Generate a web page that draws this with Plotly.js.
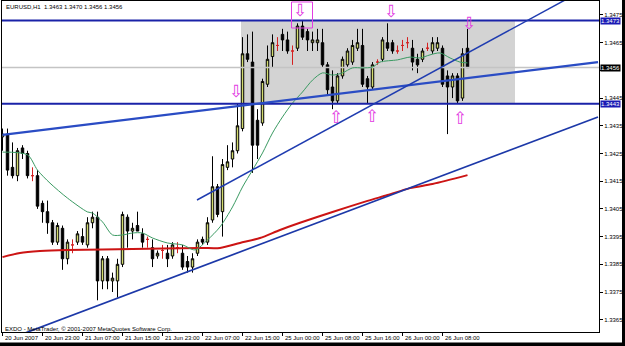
<!DOCTYPE html>
<html><head><meta charset="utf-8">
<script src="https://cdn.plot.ly/plotly-3.0.1.min.js"></script>
<style>html,body{margin:0;padding:0;background:#fff;}#chart{width:625px;height:346px;}</style>
</head><body><div id="chart"></div>
<script>
// ---- data ----
const tickIdx = [0, 8, 16, 24, 32, 40, 48, 56, 64, 72, 80, 88];
const tickLabels = ["20 Jun 2007", "20 Jun 23:00", "21 Jun 07:00", "21 Jun 15:00", "21 Jun 23:00", "22 Jun 07:00",
  "22 Jun 15:00", "25 Jun 00:00", "25 Jun 08:00", "25 Jun 16:00", "26 Jun 00:00", "26 Jun 08:00"];
const priceTicks = [1.3365, 1.3375, 1.3385, 1.3395, 1.3405, 1.3415, 1.3425, 1.3435, 1.3445, 1.3455, 1.3465, 1.3475];

const openP = [1.3431,1.3432,1.3420,1.3417,1.3427,1.3425,1.3417,1.3417,1.3407,1.3404,
 1.3400,1.3393,1.3398,1.3387,1.3392,1.3393,1.3395,1.3392,1.3400,1.3402,
 1.3379,1.3387,1.3379,1.3379,1.3385,1.3402,1.3397,1.3399,1.3396,1.3394,
 1.3391,1.3388,1.3390,1.3389,1.3388,1.3391,1.3389,1.3386,1.3384,1.3389,
 1.3394,1.3393,1.3401,1.3413,1.3404,1.3420,1.3423,1.3426,1.3434,1.3461,
 1.3458,1.3437,1.3436,1.3450,1.3460,1.3464,1.3468,1.3466,1.3462,1.3463,
 1.3471,1.3469,1.3465,1.3465,1.3465,1.3457,1.3449,1.3444,1.3453,1.3457,
 1.3458,1.3463,1.3464,1.3452,1.3449,1.3458,1.3459,1.3465,1.3465,1.3462,
 1.3464,1.3465,1.3463,1.3459,1.3459,1.3463,1.3462,1.3463,1.3463,1.3453,
 1.3449,1.3453,1.3445,1.3463];
const highP = [1.3434,1.3434,1.3429,1.3427,1.3428,1.3426,1.3420,1.3419,1.3408,1.3408,
 1.3401,1.3400,1.3399,1.3394,1.3394,1.3397,1.3398,1.3402,1.3404,1.3404,
 1.3388,1.3388,1.3382,1.3387,1.3404,1.3403,1.3400,1.3404,1.3398,1.3395,
 1.3394,1.3390,1.3392,1.3392,1.3393,1.3393,1.3392,1.3388,1.3389,1.3394,
 1.3395,1.3402,1.3424,1.3414,1.3423,1.3428,1.3429,1.3443,1.3467,1.3468,
 1.3469,1.3441,1.3452,1.3464,1.3468,1.3467,1.3470,1.3469,1.3464,1.3472,
 1.3473,1.3470,1.3469,1.3470,1.3470,1.3458,1.3455,1.3454,1.3460,1.3463,
 1.3466,1.3470,1.3470,1.3453,1.3458,1.3459,1.3467,1.3472,1.3466,1.3464,
 1.3466,1.3467,1.3466,1.3461,1.3463,1.3465,1.3467,1.3467,1.3464,1.3455,
 1.3454,1.3454,1.3463,1.3470];
const lowP = [1.3426,1.3417,1.3416,1.3415,1.3423,1.3416,1.3415,1.3405,1.3400,1.3396,
 1.3392,1.3392,1.3383,1.3385,1.3389,1.3392,1.3392,1.3391,1.3398,1.3372,
 1.3376,1.3376,1.3375,1.3373,1.3384,1.3391,1.3394,1.3397,1.3391,1.3391,
 1.3384,1.3387,1.3387,1.3384,1.3387,1.3389,1.3383,1.3382,1.3382,1.3388,
 1.3392,1.3392,1.3400,1.3402,1.3395,1.3419,1.3420,1.3425,1.3433,1.3458,
 1.3418,1.3423,1.3435,1.3449,1.3456,1.3462,1.3462,1.3461,1.3457,1.3462,
 1.3466,1.3462,1.3462,1.3462,1.3456,1.3446,1.3441,1.3443,1.3452,1.3456,
 1.3457,1.3462,1.3449,1.3443,1.3448,1.3457,1.3458,1.3462,1.3461,1.3461,
 1.3462,1.3463,1.3455,1.3454,1.3458,1.3462,1.3461,1.3462,1.3449,1.3432,
 1.3445,1.3443,1.3444,1.3456];
const closeP = [1.3432,1.3419,1.3417,1.3426,1.3425,1.3417,1.3417,1.3406,1.3404,1.3400,
 1.3393,1.3399,1.3387,1.3393,1.3392,1.3396,1.3393,1.3400,1.3402,1.3379,
 1.3387,1.3379,1.3380,1.3385,1.3403,1.3397,1.3398,1.3397,1.3393,1.3394,
 1.3387,1.3389,1.3390,1.3387,1.3392,1.3391,1.3384,1.3384,1.3387,1.3393,
 1.3393,1.3400,1.3413,1.3403,1.3421,1.3422,1.3426,1.3435,1.3461,1.3459,
 1.3428,1.3428,1.3451,1.3459,1.3465,1.3464,1.3466,1.3462,1.3462,1.3471,
 1.3467,1.3466,1.3466,1.3466,1.3457,1.3448,1.3444,1.3453,1.3459,1.3462,
 1.3464,1.3465,1.3450,1.3449,1.3457,1.3458,1.3466,1.3463,1.3462,1.3462,
 1.3464,1.3465,1.3458,1.3457,1.3462,1.3463,1.3465,1.3465,1.3450,1.3449,
 1.3453,1.3444,1.3461,1.3456];

const maGreenIdx = [0,5,7,9.5,13,17,18,20,22,24,26,28,30,33,36,38.5,41,43.5,46,48,50,52,54,56,58,60,62,64,66,68,70,72,74,75.5,79,81.5,83.5,85.5,87.5,89.5,91.5,93];
const maGreenVal = [1.34255,1.34245,1.34190,1.34143,1.34089,1.34039,1.34035,1.34003,1.33956,1.33956,1.33963,1.33963,1.33945,1.33927,1.33920,1.33902,1.33938,1.33985,1.34057,1.34129,1.34190,1.34252,1.34324,1.34382,1.34432,1.34472,1.34515,1.34541,1.34533,1.34541,1.34559,1.34559,1.34562,1.34580,1.34588,1.34598,1.34595,1.34606,1.34613,1.34595,1.34580,1.34577];
const maRedIdx = [0,3.5,7.5,13,26,39.5,43.5,47.5,51.5,55.5,59.5,66,73,77,81.5,86,93];
const maRedVal = [1.33876,1.33891,1.33898,1.33902,1.33905,1.33909,1.33909,1.33927,1.33945,1.33974,1.34000,1.34039,1.34079,1.34100,1.34125,1.34140,1.34172];

const levelUpper = 1.3473, levelLower = 1.3443, bidLevel = 1.3456;
const trendAIdx = [0, 119.1], trendAVal = [1.34317, 1.34580];
const trendBIdx = [38.9, 112.5], trendBVal = [1.34082, 1.34804];
const trendCIdx = [3.5, 119.1], trendCVal = [1.33595, 1.34382];
const boxIdx = [47.7, 102.5];
const downArrowIdx = [46.7, 59.5, 77.7, 93.3], downArrowVal = [1.34468, 1.34762, 1.34758, 1.34714];
const upArrowIdx = [66.7, 73.9, 91.5], upArrowVal = [1.34375, 1.34378, 1.34371];
const markBoxIdx = [57.8, 62.0], markBoxVal = [1.34703, 1.34797];
const headerText = "EURUSD,H1  1.3463 1.3470 1.3456 1.3456";
const footerText = "EXDO - MetaTrader, © 2001-2007 MetaQuotes Software Corp.";

// ---- build ----
const idx = openP.map((_, i) => i);
const nd = idx.filter(i => openP[i] !== closeP[i]);
const dj = idx.filter(i => openP[i] === closeP[i]);
const pick = (arr, ids) => ids.map(i => arr[i]);
const X0 = -0.1, X1 = 119.3;

const traces = [
  {type:'scatter', mode:'lines', x:[X0-2, X1+2], y:[bidLevel, bidLevel], line:{color:'#c4c4c4', width:1.5}, hoverinfo:'skip'},
  {type:'candlestick', x:pick(idx,nd), open:pick(openP,nd), high:pick(highP,nd), low:pick(lowP,nd), close:pick(closeP,nd),
   increasing:{line:{color:'#000', width:1}, fillcolor:'#d2db6e'},
   decreasing:{line:{color:'#000', width:1}, fillcolor:'#000'}, whiskerwidth:0, hoverinfo:'skip'},
  {type:'candlestick', x:pick(idx,dj), open:pick(openP,dj), high:pick(highP,dj), low:pick(lowP,dj), close:pick(closeP,dj),
   increasing:{line:{color:'#d42020', width:1}, fillcolor:'#d42020'},
   decreasing:{line:{color:'#d42020', width:1}, fillcolor:'#d42020'}, whiskerwidth:0, hoverinfo:'skip'},
  {type:'scatter', mode:'lines', x:maRedIdx, y:maRedVal, line:{color:'#cc1414', width:2, shape:'spline', smoothing:0.8}, hoverinfo:'skip'},
  {type:'scatter', mode:'lines', x:maGreenIdx, y:maGreenVal, line:{color:'#3a9a62', width:1, shape:'spline', smoothing:0.8}, hoverinfo:'skip'},
  {type:'scatter', mode:'lines', x:[X0-2, X1+2], y:[levelUpper, levelUpper], line:{color:'#1a22a8', width:2}, hoverinfo:'skip'},
  {type:'scatter', mode:'lines', x:[X0-2, X1+2], y:[levelLower, levelLower], line:{color:'#1a22a8', width:2}, hoverinfo:'skip'},
  {type:'scatter', mode:'lines', x:trendAIdx, y:trendAVal, line:{color:'#2a4cc4', width:2.2}, hoverinfo:'skip'},
  {type:'scatter', mode:'lines', x:trendBIdx, y:trendBVal, line:{color:'#1f3cb0', width:1.5}, hoverinfo:'skip'},
  {type:'scatter', mode:'lines', x:trendCIdx, y:trendCVal, line:{color:'#1c38a8', width:1.7}, hoverinfo:'skip'},
  {type:'scatter', mode:'text', x:downArrowIdx, y:downArrowVal, text:downArrowIdx.map(()=>'⇩'), cliponaxis:false,
   textfont:{family:'DejaVu Sans', size:17, color:'#e23ce2'}, textposition:'middle center', hoverinfo:'skip'},
  {type:'scatter', mode:'text', x:upArrowIdx, y:upArrowVal, text:upArrowIdx.map(()=>'⇧'), cliponaxis:false,
   textfont:{family:'DejaVu Sans', size:17, color:'#e23ce2'}, textposition:'middle center', hoverinfo:'skip'}
];

const px2paperX = v => (v - 2) / 597;
const px2paperY = v => (332 - v) / 331;

const timeLabelAnns = tickIdx.map((v, k) => ({
  xref:'x', yref:'paper', x:v, y:px2paperY(338), xanchor:'left', yanchor:'middle', xshift:0,
  showarrow:false, text:tickLabels[k], font:{size:6, color:'#000'}
}));

const layout = {
  width:625, height:346,
  margin:{l:2, r:26, t:1, b:14, pad:0},
  paper_bgcolor:'#ffffff', plot_bgcolor:'#ffffff',
  showlegend:false, hovermode:false,
  font:{family:'Liberation Sans, Arial, sans-serif', size:6, color:'#000'},
  xaxis:{range:[X0, X1], showgrid:false, zeroline:false, rangeslider:{visible:false}, fixedrange:true,
    tickmode:'array', tickvals:tickIdx, ticktext:tickIdx.map(() => ''), ticks:'outside', ticklen:3, tickcolor:'#000', tickwidth:1,
    showline:true, mirror:true, linecolor:'#000', linewidth:1},
  yaxis:{side:'right', range:[1.336056, 1.348005], showgrid:false, zeroline:false, fixedrange:true,
    tickmode:'array', tickvals:priceTicks, ticktext:priceTicks.map(v => Math.abs(v - bidLevel) < 0.0002 ? '' : v.toFixed(4)),
    ticks:'outside', ticklen:3, tickcolor:'#000', showline:true, mirror:true, linecolor:'#000', linewidth:1,
    tickfont:{size:6, color:'#000'}},
  shapes:[
    {type:'rect', xref:'x', yref:'y', x0:boxIdx[0], x1:boxIdx[1], y0:levelLower, y1:levelUpper,
     fillcolor:'#d3d3d3', line:{width:0}, layer:'below'},
    {type:'rect', xref:'x', yref:'y', x0:markBoxIdx[0], x1:markBoxIdx[1], y0:markBoxVal[0], y1:markBoxVal[1],
     fillcolor:'rgba(0,0,0,0)', line:{color:'#e23ce2', width:1}},
    {type:'rect', xref:'paper', yref:'paper', x0:px2paperX(622), x1:px2paperX(628), y0:px2paperY(350), y1:px2paperY(-2),
     fillcolor:'#000', line:{width:0}},
    {type:'rect', xref:'paper', yref:'paper', x0:px2paperX(-2), x1:px2paperX(628), y0:px2paperY(350), y1:px2paperY(342.5),
     fillcolor:'#000', line:{width:0}}
  ],
  annotations:[
    {xref:'paper', yref:'paper', x:px2paperX(4), y:px2paperY(7), xanchor:'left', yanchor:'middle', showarrow:false,
     text:headerText, font:{size:6, color:'#000'}},
    {xref:'paper', yref:'paper', x:px2paperX(3), y:px2paperY(328.5), xanchor:'left', yanchor:'middle', showarrow:false,
     text:footerText, font:{size:6, color:'#000'}},
    {xref:'paper', yref:'y', x:1, xshift:1, y:levelUpper, xanchor:'left', yanchor:'middle', showarrow:false,
     text:levelUpper.toFixed(4), font:{size:6, color:'#fff'}, bgcolor:'#1a1ab4', borderpad:0},
    {xref:'paper', yref:'y', x:1, xshift:1, y:bidLevel, xanchor:'left', yanchor:'middle', showarrow:false,
     text:bidLevel.toFixed(4), font:{size:6, color:'#fff'}, bgcolor:'#000', borderpad:0},
    {xref:'paper', yref:'y', x:1, xshift:1, y:levelLower, xanchor:'left', yanchor:'middle', showarrow:false,
     text:levelLower.toFixed(4), font:{size:6, color:'#fff'}, bgcolor:'#1a1ab4', borderpad:0}
  ].concat(timeLabelAnns)
};

Plotly.newPlot('chart', traces, layout, {staticPlot:true, displayModeBar:false});
</script>
</body></html>
